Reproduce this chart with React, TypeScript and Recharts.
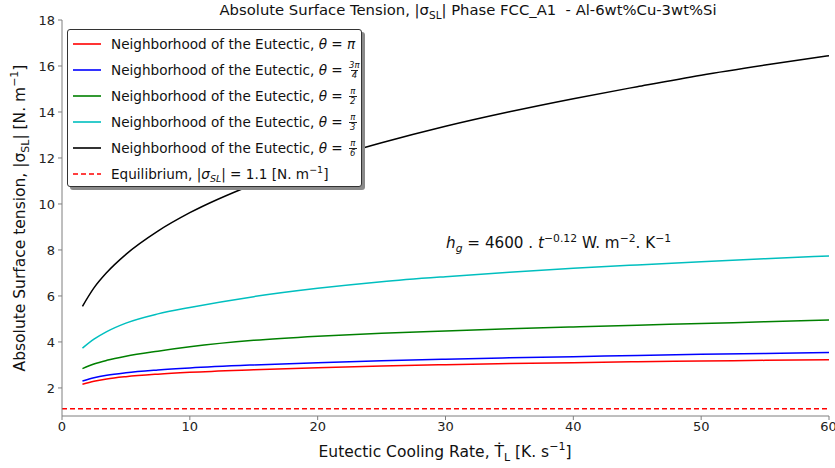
// Absolute surface tension vs eutectic cooling rate for several contact angles
import React from "react";
import { LineChart, Line, XAxis, YAxis, ReferenceLine } from "recharts";

const FONT = "'DejaVu Sans', sans-serif";

// Cooling rate [K/s]
const coolingRate = [1.6, 2.5, 3.5, 5, 7.5, 10, 15, 20, 25, 30, 35, 40, 45, 50, 55, 60];
// Surface tension per contact angle
const thetaPi = [2.16, 2.29, 2.39, 2.49, 2.6, 2.68, 2.79, 2.88, 2.95, 3.01, 3.06, 3.1, 3.14, 3.17, 3.2, 3.23];
const theta3Pi4 = [2.3, 2.44, 2.55, 2.66, 2.78, 2.87, 3.0, 3.1, 3.18, 3.25, 3.31, 3.36, 3.41, 3.46, 3.5, 3.54];
const thetaPi2 = [2.84, 3.04, 3.2, 3.38, 3.6, 3.79, 4.07, 4.25, 4.38, 4.48, 4.57, 4.65, 4.73, 4.8, 4.88, 4.95];
const thetaPi3 = [3.73, 4.12, 4.45, 4.82, 5.22, 5.5, 5.97, 6.33, 6.62, 6.84, 7.03, 7.2, 7.35, 7.49, 7.62, 7.74];
const thetaPi6 = [5.55, 6.35, 7.02, 7.81, 8.82, 9.62, 10.86, 11.84, 12.66, 13.38, 14.01, 14.58, 15.1, 15.6, 16.04, 16.45];
const equilibrium = 1.1;

const xTicks = [0, 10, 20, 30, 40, 50, 60];
const yTicks = [2, 4, 6, 8, 10, 12, 14, 16, 18];

const series = [
  { key: "pi", color: "#ff0000", values: thetaPi, num: "", den: "" },
  { key: "p34", color: "#0000ff", values: theta3Pi4, num: "3π", den: "4" },
  { key: "p2", color: "#008000", values: thetaPi2, num: "π", den: "2" },
  { key: "p3", color: "#00bfbf", values: thetaPi3, num: "π", den: "3" },
  { key: "p6", color: "#000000", values: thetaPi6, num: "π", den: "6" },
];

const data = coolingRate.map((x, i) => {
  const row: Record<string, number> = { x };
  series.forEach((s) => (row[s.key] = s.values[i]));
  return row;
});

const AXIS = "#7f7f7f";

function Frac({ n, d }: { n: string; d: string }) {
  return (
    <span
      style={{
        display: "inline-flex",
        flexDirection: "column",
        alignItems: "center",
        fontSize: 8.5,
        lineHeight: "9px",
        verticalAlign: "middle",
        fontStyle: "italic",
        marginLeft: 2,
      }}
    >
      <span>{n}</span>
      <span style={{ borderTop: "0.8px solid #222", padding: "0 1px" }}>{d}</span>
    </span>
  );
}

// legend line sample, drawn as a small svg so it stays crisp
function Sample({ color, dashed }: { color: string; dashed?: boolean }) {
  return (
    <svg width={28} height={4} style={{ flex: "none", marginLeft: 5, marginRight: 10 }}>
      <line x1={0} y1={2} x2={28} y2={2} stroke={color} strokeWidth={1.6} strokeDasharray={dashed ? "5 3" : undefined} />
    </svg>
  );
}

function LegendBox() {
  return (
    <div
      style={{
        position: "absolute",
        left: 67,
        top: 29,
        width: 295,
        height: 158,
        background: "#fff",
        border: "1px solid #333",
        borderRadius: 3,
        boxShadow: "3px 3px 0 #8a8a8a",
        boxSizing: "border-box",
        fontSize: 13.6,
        color: "#111",
        paddingTop: 1,
        whiteSpace: "nowrap",
      }}
    >
      {series.map((s) => (
        <div key={s.key} style={{ height: 26, display: "flex", alignItems: "center" }}>
          <Sample color={s.color} />
          <span>
            Neighborhood of the Eutectic, <i>θ</i> = {s.num ? <Frac n={s.num} d={s.den} /> : <i>π</i>}
          </span>
        </div>
      ))}
      <div style={{ height: 26, display: "flex", alignItems: "center" }}>
        <Sample color="#ff0000" dashed />
        <span>
          Equilibrium, |<i>σ</i>
          <sub style={{ fontSize: 9.5, fontStyle: "italic" }}>SL</sub>| = 1.1 [N. m<sup style={{ fontSize: 9.5 }}>−1</sup>]
        </span>
      </div>
    </div>
  );
}

export default function App() {
  return (
    <div style={{ position: "absolute", left: 0, top: 0, width: 835, height: 468, background: "#fff", fontFamily: FONT }}>
      <LineChart width={835} height={468} data={data} margin={{ top: 20, right: 6, bottom: 0, left: 0 }}>
        <XAxis
          dataKey="x"
          type="number"
          domain={[0, 60]}
          ticks={xTicks}
          height={52}
          tickSize={4}
          tickMargin={2}
          stroke={AXIS}
          tick={{ fill: "#222", fontSize: 13, fontFamily: FONT }}
          allowDataOverflow
        />
        <XAxis xAxisId="top" orientation="top" type="number" domain={[0, 60]} height={0} tick={false} tickLine={false} stroke={AXIS} />
        <YAxis
          type="number"
          domain={[0.78, 18]}
          ticks={yTicks}
          width={62}
          tickSize={4}
          tickMargin={3}
          stroke={AXIS}
          tick={{ fill: "#222", fontSize: 13, fontFamily: FONT }}
          allowDataOverflow
        />
        <YAxis yAxisId="right" orientation="right" domain={[0.78, 18]} width={0} tick={false} tickLine={false} stroke={AXIS} />
        <ReferenceLine y={equilibrium} stroke="#ff0000" strokeWidth={1.5} strokeDasharray="5 3" />
        {series.map((s) => (
          <Line
            key={s.key}
            dataKey={s.key}
            type="monotone"
            stroke={s.color}
            strokeWidth={1.5}
            dot={false}
            isAnimationActive={false}
          />
        ))}
      </LineChart>

      <div style={{ position: "absolute", left: 468, top: 1, transform: "translateX(-50%)", whiteSpace: "nowrap", fontSize: 14.8, color: "#111" }}>
        Absolute Surface Tension, |σ<sub style={{ fontSize: 10.5 }}>SL</sub>| Phase FCC_A1&nbsp;&nbsp;- Al-6wt%Cu-3wt%Si
      </div>

      <div
        style={{
          position: "absolute",
          left: 20,
          top: 218,
          transform: "translate(-50%, -50%) rotate(-90deg)",
          whiteSpace: "nowrap",
          fontSize: 15.5,
          color: "#111",
        }}
      >
        Absolute Surface tension, |σ<sub style={{ fontSize: 11 }}>SL</sub>| [N. m<sup style={{ fontSize: 11 }}>−1</sup>]
      </div>

      <div style={{ position: "absolute", left: 445, top: 452, transform: "translate(-50%, -50%)", whiteSpace: "nowrap", fontSize: 15.5, color: "#111" }}>
        Eutectic Cooling Rate, T&#775;<sub style={{ fontSize: 11 }}>L</sub> [K. s<sup style={{ fontSize: 11 }}>−1</sup>]
      </div>

      <div style={{ position: "absolute", left: 446, top: 232, whiteSpace: "nowrap", fontSize: 15.2, color: "#111" }}>
        <i>h</i>
        <sub style={{ fontSize: 10.8, fontStyle: "italic" }}>g</sub> = 4600 . <i>t</i>
        <sup style={{ fontSize: 10.8 }}>−0.12</sup> W. m<sup style={{ fontSize: 10.8 }}>−2</sup>. K<sup style={{ fontSize: 10.8 }}>−1</sup>
      </div>

      <LegendBox />
    </div>
  );
}
